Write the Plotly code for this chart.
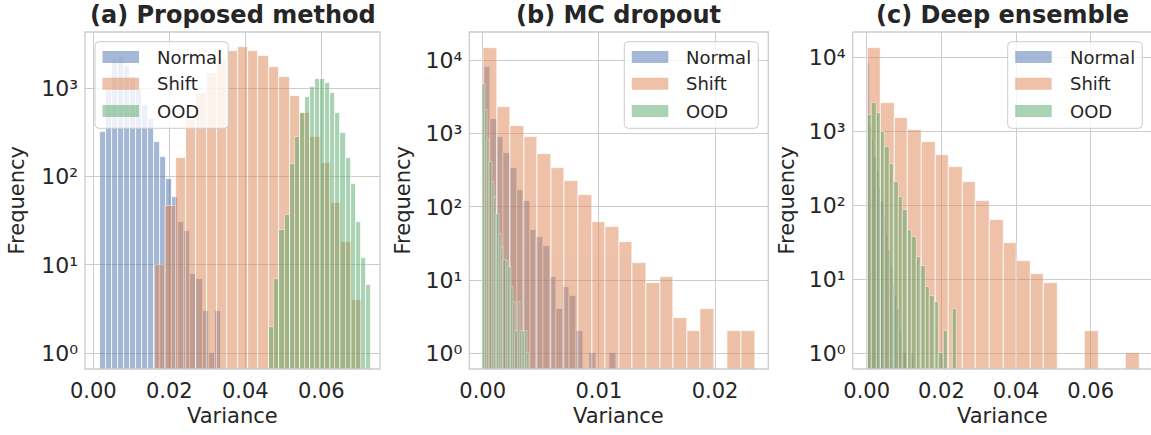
import numpy as np
import plotly.graph_objects as go

# ---------------- data (histogram counts) ----------------
SERIES = ["Normal", "Shift", "OOD"]
COLORS = ["rgb(76,114,176)", "rgb(221,132,82)", "rgb(85,168,104)"]

# (a) Proposed method
NORMAL_A = [323, 960, 2100, 2250, 1810, 1360, 960, 655, 450, 249, 168, 93, 59, 31, 24, 8, 7, 3, 1, 3]
NORMAL_A_RANGE = (0.00168, 0.03353)
SHIFT_A = [10, 47, 161, 440, 880, 1480, 2140, 2670, 2920, 2670, 2330, 1750, 1360, 820, 530, 279, 142, 50, 18, 4]
SHIFT_A_RANGE = (0.01624, 0.07071)
OOD_A = [2, 7, 25, 37, 139, 279, 531, 806, 1030, 1280, 1280, 1140, 880, 531, 315, 161, 83, 31, 12, 6]
OOD_A_RANGE = (0.04632, 0.07308)

# (b) MC dropout
NORMAL_B = [8000, 1600, 900, 546, 334, 169, 121, 49, 39, 29, 11, 4, 8, 6, 2, 0, 1, 0, 0, 1]
NORMAL_B_RANGE = (0.000112, 0.01147)
SHIFT_B = [14800, 2310, 1262, 902, 524, 334, 226, 144, 62, 53, 33, 17, 9, 11, 3, 2, 4, 0, 2, 2]
SHIFT_B_RANGE = (0.00005, 0.02343)
OOD_B = [4820, 2085, 857, 411, 219, 137, 81, 43, 28, 19, 18, 15, 8, 5, 2, 5, 2, 2, 2, 1]
OOD_B_RANGE = (0.0, 0.00404)

# (c) Deep ensemble
NORMAL_C = [8500, 1200, 800, 450, 300, 180, 110, 70, 40, 25, 15, 9, 6, 4, 2, 1, 1, 0, 0, 1]
NORMAL_C_RANGE = (0.00016, 0.01248)
SHIFT_C = [13500, 2450, 1527, 1042, 724, 485, 333, 208, 115, 63, 31, 18, 12, 9, 0, 0, 2, 0, 0, 1]
SHIFT_C_RANGE = (0.00016, 0.07302)
OOD_C = [1660, 2434, 1784, 988, 620, 361, 208, 131, 86, 47, 37, 20, 15, 8, 6, 5, 1, 2, 0, 4]
OOD_C_RANGE = (0.00016, 0.02411)

TITLES = ["(a) Proposed method", "(b) MC dropout", "(c) Deep ensemble"]
X_TICKS_A = [0.0, 0.02, 0.04, 0.06]
X_TICKS_B = [0.0, 0.01, 0.02]
X_TICKS_C = [0.0, 0.02, 0.04, 0.06]
Y_TICKS = [1, 10, 100, 1000, 10000]
Y_TICK_TEXT = ["10\u2070", "10\u00b9", "10\u00b2", "10\u00b3", "10\u2074"]

PANELS = [
    [(NORMAL_A, NORMAL_A_RANGE), (SHIFT_A, SHIFT_A_RANGE), (OOD_A, OOD_A_RANGE)],
    [(NORMAL_B, NORMAL_B_RANGE), (SHIFT_B, SHIFT_B_RANGE), (OOD_B, OOD_B_RANGE)],
    [(NORMAL_C, NORMAL_C_RANGE), (SHIFT_C, SHIFT_C_RANGE), (OOD_C, OOD_C_RANGE)],
]
X_TICKS = [X_TICKS_A, X_TICKS_B, X_TICKS_C]

# ---------------- layout geometry (pixels) ----------------
W, H = 1151, 435
FONT = "DejaVu Sans"
TXT = "#262626"
GRID = "#cccccc"

AX_X = [(85, 380), (469.3, 768.3), (852.7, 1151)]
AX_Y = (32, 369)
X_RANGES = [(-0.00218, 0.07545), (-0.00115, 0.02458), (-0.00375, 0.07616)]
Y_RANGES = [(-0.178, 3.638), (-0.214, 4.387), (-0.212, 4.346)]
TITLE_X = [232.5, 618.5, 1002.5]
XLABEL_X = [232.5, 618.5, 1002.5]
YLABEL_X = [16, 402, 786]
LEGEND_BOX = [(95, 228.3), (624.3, 758.3), (1007.7, 1142.3)]
LEG_TOP, LEG_BOT = 41.7, 128.3
LEG_ROWS = [57, 83.7, 111]


def px(x):
    return x / W


def py(y):
    return 1 - y / H


fig = go.Figure()

for p, series in enumerate(PANELS):
    xa = "x" if p == 0 else f"x{p + 1}"
    ya = "y" if p == 0 else f"y{p + 1}"
    for s, (counts, (lo, hi)) in enumerate(series):
        n = len(counts)
        w = (hi - lo) / n
        centers = lo + w * (np.arange(n) + 0.5)
        yv = [c if c > 0 else None for c in counts]
        fig.add_trace(go.Bar(
            x=centers, y=yv, width=w, name=SERIES[s], showlegend=False,
            marker=dict(color=COLORS[s], line=dict(color="white", width=0.8)),
            opacity=0.5, xaxis=xa, yaxis=ya, hoverinfo="skip",
        ))

annotations = []
shapes = []
for p in range(3):
    xk = "xaxis" if p == 0 else f"xaxis{p + 1}"
    yk = "yaxis" if p == 0 else f"yaxis{p + 1}"
    ya_name = "y" if p == 0 else f"y{p + 1}"
    xa_name = "x" if p == 0 else f"x{p + 1}"
    x0, x1 = AX_X[p]
    ticks = X_TICKS[p]
    fig.layout[xk] = dict(
        domain=[px(x0), px(x1)], range=list(X_RANGES[p]), anchor=ya_name,
        automargin=False,
        tickmode="array", tickvals=ticks, ticktext=[f"{t:.2f}" for t in ticks],
        showgrid=True, gridcolor=GRID, gridwidth=1, zeroline=False, showline=False,
        ticks="", ticklabelstandoff=7,
        tickfont=dict(family=FONT, size=21, color=TXT),
    )
    idx = [i for i, t in enumerate(Y_TICKS) if np.log10(t) <= Y_RANGES[p][1]]
    fig.layout[yk] = dict(
        domain=[py(AX_Y[1]), py(AX_Y[0])], type="log", range=list(Y_RANGES[p]),
        anchor=xa_name, automargin=False,
        tickmode="array", tickvals=[Y_TICKS[i] for i in idx],
        ticktext=[Y_TICK_TEXT[i] for i in idx],
        showgrid=True, gridcolor=GRID, gridwidth=1, zeroline=False, showline=False,
        ticks="", ticklabelstandoff=6,
        tickfont=dict(family=FONT, size=22, color=TXT),
    )
    # frame
    if p < 2:
        shapes.append(dict(type="rect", xref=f"{xa_name} domain", yref=f"{ya_name} domain",
                           x0=0, x1=1, y0=0, y1=1, line=dict(color=GRID, width=1.3),
                           fillcolor="rgba(0,0,0,0)", layer="above"))
    else:
        for (a0, b0, a1, b1) in [(0, 0, 0, 1), (0, 0, 1, 0), (0, 1, 1, 1)]:
            shapes.append(dict(type="line", xref=f"{xa_name} domain", yref=f"{ya_name} domain",
                               x0=a0, y0=b0, x1=a1, y1=b1, line=dict(color=GRID, width=1.3),
                               layer="above"))
    # titles
    annotations.append(dict(text=f"<b>{TITLES[p]}</b>", x=px(TITLE_X[p]), y=py(15),
                            xref="paper", yref="paper", xanchor="center", yanchor="middle",
                            showarrow=False, font=dict(family=FONT, size=24, color=TXT)))
    annotations.append(dict(text="Variance", x=px(XLABEL_X[p]), y=py(416),
                            xref="paper", yref="paper", xanchor="center", yanchor="middle",
                            showarrow=False, font=dict(family=FONT, size=21, color=TXT)))
    annotations.append(dict(text="Frequency", x=px(YLABEL_X[p]), y=py(200.5), textangle=-90,
                            xref="paper", yref="paper", xanchor="center", yanchor="middle",
                            showarrow=False, font=dict(family=FONT, size=21, color=TXT)))
    # manual legend (matplotlib-style wide patches)
    bx0, bx1 = LEGEND_BOX[p]
    r = 4
    X0, X1 = px(bx0), px(bx1)
    Y0, Y1 = py(LEG_BOT), py(LEG_TOP)
    rx, ry = r / W, r / H
    path = (f"M {X0 + rx},{Y0} L {X1 - rx},{Y0} Q {X1},{Y0} {X1},{Y0 + ry} "
            f"L {X1},{Y1 - ry} Q {X1},{Y1} {X1 - rx},{Y1} L {X0 + rx},{Y1} "
            f"Q {X0},{Y1} {X0},{Y1 - ry} L {X0},{Y0 + ry} Q {X0},{Y0} {X0 + rx},{Y0} Z")
    shapes.append(dict(type="path", xref="paper", yref="paper", path=path,
                       fillcolor="rgba(255,255,255,0.8)", line=dict(color=GRID, width=1),
                       layer="above"))
    for s in range(3):
        cy = LEG_ROWS[s]
        shapes.append(dict(type="rect", xref="paper", yref="paper",
                           x0=px(bx0 + 7.5), x1=px(bx0 + 44), y0=py(cy + 6), y1=py(cy - 6),
                           fillcolor=COLORS[s], opacity=0.5, line=dict(width=0), layer="above"))
        annotations.append(dict(text=SERIES[s], x=px(bx0 + 60), y=py(cy),
                                xref="paper", yref="paper", xanchor="left", yanchor="middle",
                                showarrow=False, font=dict(family=FONT, size=18, color=TXT)))

fig.update_layout(
    width=W, height=H, margin=dict(l=0, r=0, t=0, b=0),
    paper_bgcolor="white", plot_bgcolor="white",
    barmode="overlay", bargap=0, showlegend=False,
    annotations=annotations, shapes=shapes,
    font=dict(family=FONT, color=TXT),
)

fig.write_html("out.html")
